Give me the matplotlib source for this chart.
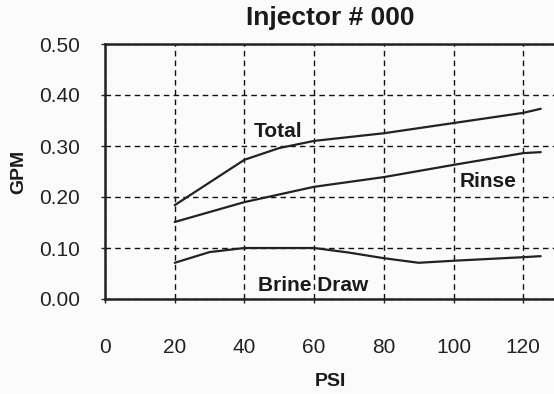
import matplotlib.pyplot as plt

plt.rcParams['font.family'] = ['Liberation Sans', 'DejaVu Sans']

psi_total = [20, 40, 50, 60, 80, 100, 120, 125]
gpm_total = [0.184, 0.273, 0.296, 0.310, 0.325, 0.345, 0.365, 0.373]

psi_rinse = [20, 40, 60, 80, 100, 120, 125]
gpm_rinse = [0.151, 0.190, 0.220, 0.239, 0.263, 0.286, 0.288]

psi_brine = [20, 30, 40, 60, 70, 80, 90, 100, 120, 125]
gpm_brine = [0.071, 0.092, 0.100, 0.100, 0.091, 0.080, 0.071, 0.075, 0.082, 0.084]

x_ticks = [0, 20, 40, 60, 80, 100, 120]
y_ticks = [0.0, 0.1, 0.2, 0.3, 0.4, 0.5]

W, H = 554, 394
bg = '#fbfbfb'
fig = plt.figure(figsize=(W / 100, H / 100), dpi=100, facecolor=bg)
# the plot area runs on past the right edge, out to 140 psi
ax = fig.add_axes([105 / W, (H - 299) / H, 488 / W, 255 / H])
ax.set_facecolor(bg)

for x, y in [(psi_total, gpm_total), (psi_rinse, gpm_rinse), (psi_brine, gpm_brine)]:
    ax.plot(x, y, color='#222222', lw=1.6, solid_joinstyle='round', solid_capstyle='round')

ax.set_xlim(0, 140)
ax.set_ylim(0, 0.5)
ax.set_xticks(x_ticks)
ax.set_yticks(y_ticks)
ax.set_yticklabels([f'{v:.2f}' for v in y_ticks])
ax.grid(True, color='#111111', ls=(0, (4, 3)), lw=1.0)

for side in ['left', 'bottom', 'top']:
    ax.spines[side].set_linewidth(1.8)
    ax.spines[side].set_color('#222222')
ax.spines['right'].set_visible(False)

ax.tick_params(axis='x', length=3, width=1, pad=25, labelsize=15, colors='#222222')
ax.tick_params(axis='y', length=3, width=1, pad=15, labelsize=15, colors='#222222')

ax.text(49.6, 0.329, 'Total', ha='center', va='center', fontsize=15, fontweight='bold', color='#1a1a1a')
ax.text(109.8, 0.231, 'Rinse', ha='center', va='center', fontsize=15, fontweight='bold', color='#1a1a1a')
ax.text(59.6, 0.027, 'Brine Draw', ha='center', va='center', fontsize=15, fontweight='bold', color='#1a1a1a')

fig.text(330 / W, 1 - 18 / H, 'Injector # 000', ha='center', va='center',
         fontsize=19, fontweight='bold', color='#1a1a1a')
fig.text(18.5 / W, 1 - 172 / H, 'GPM', ha='center', va='center', rotation=90,
         fontsize=14, fontweight='bold', color='#1a1a1a')
fig.text(330 / W, 1 - 382 / H, 'PSI', ha='center', va='center',
         fontsize=14, fontweight='bold', color='#1a1a1a')

fig.savefig('out.png', dpi=100, facecolor=fig.get_facecolor())
